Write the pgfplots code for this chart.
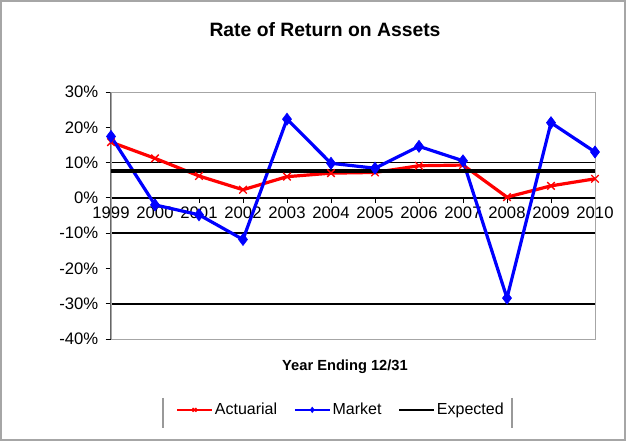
\documentclass[border=0pt]{standalone}
\usepackage{fontspec}
\setmainfont{Liberation Sans}
\usepackage{pgfplots}
\pgfplotsset{compat=1.18}

\begin{document}
\begin{tikzpicture}
% canvas 626x441 px, 0.75pt per px, origin at the plot area's lower left corner
\path[use as bounding box] (-83.25pt,-76.5pt) rectangle (386.25pt,254.25pt);
\draw[gray!70, line width=0.8pt] (-82.5pt,-75.75pt) rectangle (385.5pt,253.5pt);
\begin{axis}[
    at={(0pt,0pt)}, anchor=south west,
    scale only axis, width=363pt, height=185.25pt,
    xmin=0, xmax=11, ymin=-40, ymax=30,
    axis x line*=middle, axis y line*=left,
    hide obscured x ticks=false,
    x axis line style={black, line width=1.3pt},
    y axis line style={gray!80!black, line width=1pt},
    clip=false,
    xtick={0,...,11},
    xticklabels={1999,2000,2001,2002,2003,2004,2005,2006,2007,2008,2009,2010},
    ytick={-40,-30,...,30},
    yticklabels={-40\%,-30\%,-20\%,-10\%,0\%,10\%,20\%,30\%},
    tick align=outside,
    major tick length=4pt,
    tick style={black, line width=0.6pt},
    tick label style={font=\fontsize{12.5}{14}\selectfont},
    yticklabel style={xshift=-2pt},
    xticklabel style={yshift=1pt},
    extra y ticks={-30,-10,10},
    extra y tick labels={},
    extra y tick style={grid=major, major grid style={black, line width=1.2pt}, major tick length=0pt},
    legend columns=3,
    legend style={at={(0.475,-0.287)}, anchor=center, draw=none, fill=none,
        font=\fontsize{12}{14}\selectfont,
        nodes={inner sep=1.5pt},
        /tikz/every even column/.append style={column sep=11pt}},
    legend image code/.code={
        \draw[mark repeat=2, mark phase=2, mark size=2pt, #1, line width=1.6pt]
            plot coordinates {(0pt,0pt) (13pt,0pt) (26pt,0pt)};},
]
\draw[gray!70, line width=0.7pt] (rel axis cs:0,0) rectangle (rel axis cs:1,1);

\addplot[red, line width=2.4pt, mark=x, mark size=4pt,
    mark options={line width=1pt}]
    coordinates {(0,15.8) (1,11.2) (2,6.2) (3,2.3) (4,6.0) (5,7.0)
                 (6,7.2) (7,9.1) (8,9.3) (9,0.2) (10,3.4) (11,5.4)};
\addlegendentry{Actuarial}

\addplot[blue, line width=2.4pt, mark=diamond*, mark size=4.5pt,
    mark options={line width=0.5pt}]
    coordinates {(0,17.4) (1,-2.0) (2,-4.8) (3,-11.8) (4,22.3) (5,9.8)
                 (6,8.4) (7,14.6) (8,10.5) (9,-28.4) (10,21.3) (11,13.0)};
\addlegendentry{Market}

\addplot[black, line width=3pt]
    coordinates {(0,7.75) (11,7.75)};
\addlegendentry{Expected}
\end{axis}
\node[font=\bfseries\fontsize{14.5}{16}\selectfont] at (160.5pt,231.75pt) {Rate of Return on Assets};
\node[font=\bfseries\fontsize{11}{13}\selectfont] at (175.5pt,-21pt) {Year Ending 12/31};
\draw[gray!80, line width=0.8pt] (39pt,-44.25pt) -- (39pt,-66.75pt);
\draw[gray!80, line width=0.8pt] (300.75pt,-44.25pt) -- (300.75pt,-66.75pt);
\end{tikzpicture}
\end{document}
